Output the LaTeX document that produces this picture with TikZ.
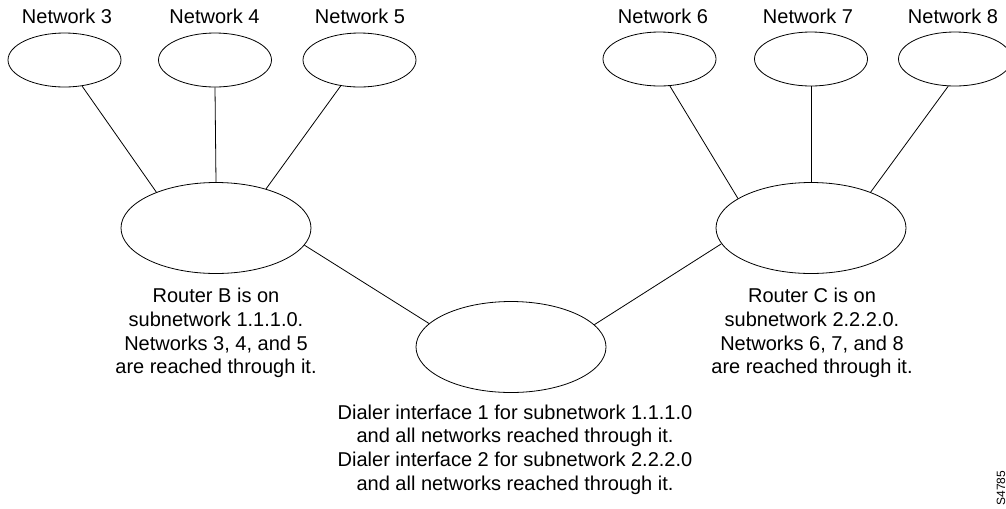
\documentclass[tikz,border=0pt]{standalone}
\usepackage{fontspec}
\setmainfont{Liberation Sans}
\usetikzlibrary{shapes.geometric}
\begin{document}
\begin{tikzpicture}[x=0.75pt,y=-0.75pt,line width=0.6pt,
    net/.style={draw,ellipse,minimum width=84.75pt,minimum height=40.5pt,inner sep=0pt},
    router/.style={draw,ellipse,minimum width=142.5pt,minimum height=68.25pt,inner sep=0pt},
    txt/.style={align=center,inner sep=0pt,font=\fontsize{15}{17.8}\selectfont}]
\useasboundingbox (0,0) rectangle (1006,508);
% networks on top
\foreach \n/\x/\y/\lx in {3/64.5/60/67, 4/215/60/214.5, 5/359.5/60/360, 6/659.5/59/663, 7/811/59/808, 8/955/59/953}
{
    \node[net] (n\n) at (\x,\y){};
    \node[txt,anchor=base] (l\n) at (\lx,23){Network \n};
}
% routers
\node[router] (rb) at (216,228){};
\node[router] (rc) at (811,228){};
\node[router] (dl) at (511,347){};
\node[txt] (tb) at (216,333){Router B is on\\subnetwork 1.1.1.0.\\Networks 3, 4, and 5\\are reached through it.};
\node[txt] (tc) at (812,333){Router C is on\\subnetwork 2.2.2.0.\\Networks 6, 7, and 8\\are reached through it.};
\node[txt] (td) at (515,449.5){Dialer interface 1 for subnetwork 1.1.1.0\\and all networks reached through it.\\Dialer interface 2 for subnetwork 2.2.2.0\\and all networks reached through it.};
\node[rotate=90,inner sep=0pt,font=\fontsize{9}{10}\selectfont] (id) at (1001,488){S4785};

\foreach \a/\b in {n3.-56/rb.149, n4.south/rb.north, n5.-126/rb.38, n6.-69/rc.158, n7.south/rc.north, n8.-104/rc.31, rb.-11/dl.164, rc.190/dl.15}
{
    \draw (\a)--(\b);
}
\end{tikzpicture}
\end{document}
